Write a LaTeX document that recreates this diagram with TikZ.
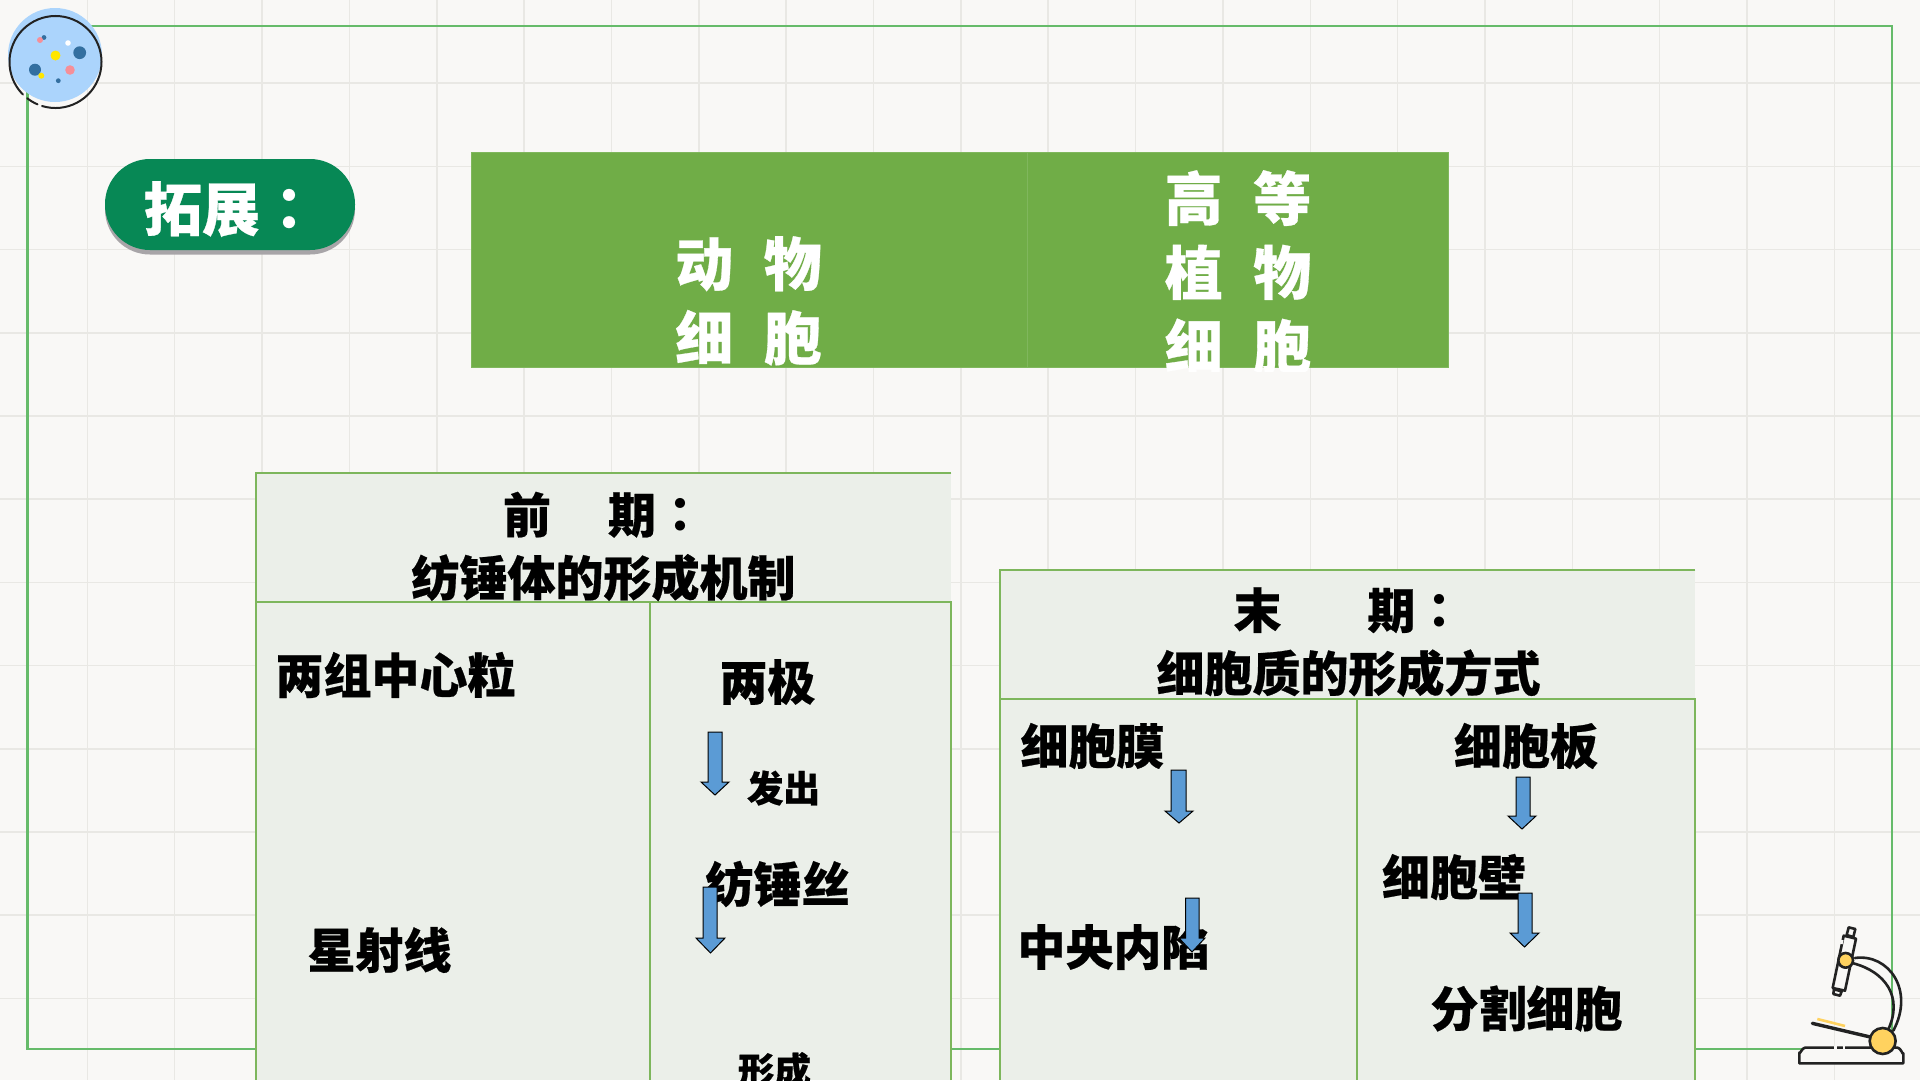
\documentclass[tikz,border=0pt]{standalone}
\usepackage{fontspec}
\setmainfont{Noto Sans CJK SC Black}[FakeBold=0.5]
\newfontfamily\colonfont{Noto Sans CJK TC Black}
\definecolor{paper}{HTML}{F9F8F6}
\definecolor{gridline}{HTML}{E9E8E4}
\definecolor{frameline}{HTML}{66BB6A}
\definecolor{tableline}{HTML}{7DB65C}
\definecolor{tablefill}{HTML}{EBEFE9}
\definecolor{banner}{HTML}{70AD47}
\definecolor{bannerline}{HTML}{80B75D}
\definecolor{pill}{HTML}{078855}
\definecolor{pillshade}{HTML}{A8A5A8}
\definecolor{arrowblue}{HTML}{5B9BD5}
\definecolor{dishblue}{HTML}{ABD4FC}
\definecolor{dotblue}{HTML}{336FA0}
\definecolor{dotpink}{HTML}{F58F98}
\definecolor{dotyellow}{HTML}{FFE600}
\definecolor{inkdark}{HTML}{222222}
\definecolor{lampyellow}{HTML}{FFD25F}
\tikzset{
  gridrule/.style={gridline,line width=1.5pt},
  tablerule/.style={tableline,line width=2pt},
  bigtext/.style={inner sep=0pt,align=center,text=black,font=\fontsize{48}{63}\selectfont},
  smalltext/.style={inner sep=0pt,text=black,font=\fontsize{36.5}{36.5}\selectfont},
  whitetext/.style={inner sep=0pt,align=center,text=white,font=\fontsize{58}{74}\selectfont},
  blockarrow/.style={fill=arrowblue,draw=black,line width=1pt,line join=miter},
  inkline/.style={draw=inkdark,line width=2.6pt,line cap=round,line join=round},
  pillshape/.style={rounded corners=45pt,minimum width=250pt,minimum height=91pt,inner sep=0pt}
}
% Block arrow pointing down: shaft left, shaft right, top, head start, tip, head left, head right
\newcommand{\downblock}[7]{%
  \draw[blockarrow] (#1,#3) -- (#2,#3) -- (#2,#4) -- (#7,#4) -- ({(#6+#7)/2},#5) -- (#6,#4) -- (#1,#4) -- cycle;}
\begin{document}
\begin{tikzpicture}[x=1pt,y=-1pt]
\useasboundingbox (0,0) rectangle (1920,1080);
\clip (0,0) rectangle (1920,1080);
\fill[paper] (0,0) rectangle (1920,1080);

% Squared paper
\foreach \k in {1,...,21} \draw[gridrule] ({87.35*\k},0) -- ({87.35*\k},1080);
\foreach \k in {1,...,12} \draw[gridrule] (0,{83.2*\k}) -- (1920,{83.2*\k});

% Page frame
\draw[frameline,line width=2.5pt] (27.5,26) rectangle (1892,1049);

% Petri dish badge
\fill[dishblue] (55,55) circle (47);
\fill[dotblue] (44,37.5) circle (2.4);
\fill[dotpink] (40,40) circle (3);
\fill[white] (68,43) circle (2.8);
\fill[dotyellow] (55.5,55.5) circle (5);
\fill[dotblue] (79.7,52.7) circle (6.4);
\fill[dotblue] (35,69.7) circle (6);
\fill[dotyellow] (41.3,75.7) circle (3);
\fill[dotpink] (70,70) circle (4.8);
\fill[dotblue] (58.3,80.7) circle (2.4);
\draw[inkline,line width=2pt] (55.5,62) ++(107:46) arc[start angle=107,end angle=-225,radius=46];
\draw[inkline,line width=2pt] (55.5,62) ++(128:46) arc[start angle=128,end angle=113,radius=46];

% Pill title
\node[pillshape,fill=pillshade] (pillback) at (230,209) {};
\node[pillshape,fill=pill] (pillbox) at (230,204.5) {};
\node[inner sep=0pt,text=white,font=\fontsize{58}{58}\selectfont] (pilltext) at (231,209) {拓展{\colonfont ：}};

% Comparison banner
\fill[banner] (471,152) rectangle (1448.5,367);
\draw[bannerline,line width=1pt] (471,152) rectangle (1448.5,367);
\draw[bannerline,line width=1pt] (1027.6,152) -- (1027.6,367);
\begin{scope}
\clip (471,152) rectangle (1448.5,371);
\node[whitetext,anchor=north] (animal) at (748.5,236) {动\hspace{30.6pt}物\\细\hspace{30.6pt}胞};
\node[whitetext,anchor=north] (plant) at (1238,170) {高\hspace{30.6pt}等\\植\hspace{30.6pt}物\\细\hspace{30.6pt}胞};
\end{scope}

% Prophase table
\fill[tablefill] (256.3,472.7) rectangle (951.4,1080);
\draw[tablerule] (951.4,1080) -- (951.4,602.3) -- (256.3,602.3);
\draw[tablerule] (951.4,472.7) -- (256.3,472.7) -- (256.3,1080);
\draw[tablerule] (649.7,602.3) -- (649.7,1080);
\node[bigtext] (prohead) at (603.5,546.5) {前\hspace{57pt}期{\colonfont ：}\\纺锤体的形成机制};
\node[bigtext] (centrioles) at (395.5,675) {两组中心粒};
\node[bigtext] (poles) at (767.5,682) {两极};
\node[smalltext] (emit) at (783.5,788) {发出};
\node[bigtext] (spindle) at (777.5,884) {纺锤丝};
\node[bigtext] (aster) at (379.5,950) {星射线};
\node[smalltext] (form) at (774.5,1070) {形成};
\downblock{708}{722}{732}{782}{795}{701}{729}
\downblock{703}{717}{887}{938}{953}{696}{725}

% Telophase table
\fill[tablefill] (1000.4,569.7) rectangle (1695.4,1080);
\draw[tablerule] (1695.4,1080) -- (1695.4,698.7) -- (1000.4,698.7);
\draw[tablerule] (1695.4,569.7) -- (1000.4,569.7) -- (1000.4,1080);
\draw[tablerule] (1356.5,698.7) -- (1356.5,1080);
\node[bigtext] (telhead) at (1348.5,642) {末\hspace{86pt}期{\colonfont ：}\\细胞质的形成方式};
\node[bigtext] (membrane) at (1092.5,746) {细胞膜};
\node[bigtext] (furrow) at (1113.5,947) {中央内陷};
\node[bigtext] (plate) at (1526,746) {细胞板};
\node[bigtext] (wall) at (1454,877) {细胞壁};
\node[bigtext] (divide) at (1526.5,1008.5) {分割细胞};
\downblock{1171}{1186}{770}{811}{823}{1165}{1193}
\downblock{1185.5}{1199}{898}{938}{952}{1179}{1205}
\downblock{1516}{1530}{777}{816}{829}{1508}{1536}
\downblock{1518}{1532}{893}{933}{947}{1510}{1539}

% Microscope
\begin{scope}[shift={(1760,900)},x=0.3333pt,y=-0.3333pt]
\draw[inkline,fill=paper,line width=2.6pt] (118,490) -- (118,458) to[out=-90,in=180] (135,443) -- (413,443) to[out=0,in=-90] (430,460) -- (430,490) -- cycle;
\draw[paper,line width=3pt] (222,443) -- (232,443) (248,443) -- (255,443);
\draw[inkline] (285,174) .. controls (385,160) and (465,270) .. (400,392);
\draw[inkline] (280,190) .. controls (375,215) and (430,290) .. (385,388);
\draw[lampyellow,line width=2.6pt] (172,357) -- (255,378);
\draw[inkline,line width=3.4pt] (157,370) -- (335,412);
\draw[inkline,fill=lampyellow] (368,423) circle (39);
\draw[inkline,fill=paper] (266,82) -- (286,87) -- (280,111) -- (260,105) -- cycle;
\draw[inkline,fill=paper] (222,268) -- (245,274) -- (240,287) -- (220,282) -- cycle;
\draw[inkline,fill=paper] (251,107) -- (288,116) -- (255,272) -- (218,264) -- cycle;
\draw[paper,line width=2.5pt] (247,120) -- (244,132);
\draw[inkline,fill=lampyellow] (257,181) circle (22);
\end{scope}
\end{tikzpicture}
\end{document}
